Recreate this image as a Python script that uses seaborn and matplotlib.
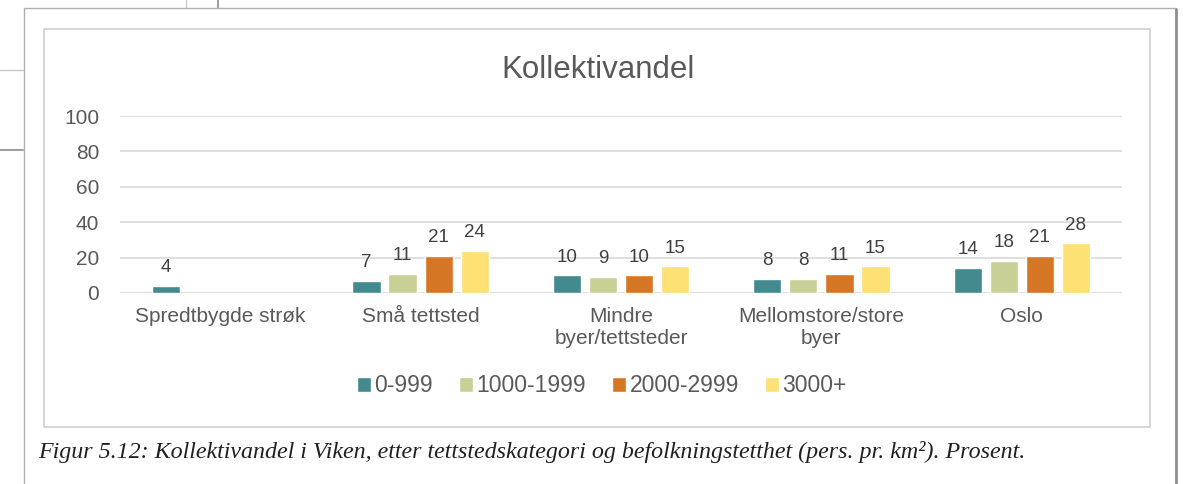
import pandas as pd
import numpy as np
import matplotlib.pyplot as plt
import seaborn as sns
from matplotlib.patches import Rectangle
from matplotlib.lines import Line2D

categories = ['Spredtbygde strøk', 'Små tettsted', 'Mindre\nbyer/tettsteder',
              'Mellomstore/store\nbyer', 'Oslo']
density_groups = ['0-999', '1000-1999', '2000-2999', '3000+']
vals_0_999 = [4, 7, 10, 8, 14]
vals_1000_1999 = [np.nan, 11, 9, 8, 18]
vals_2000_2999 = [np.nan, 21, 10, 11, 21]
vals_3000 = [np.nan, 24, 15, 15, 28]
colors = ['#438A8F', '#C9D096', '#D57625', '#FEE175']

W, H = 1183, 484

def fx(px):
    return px / W

def fy(py):
    return 1 - py / H

rows = []
for grp, series in zip(density_groups, [vals_0_999, vals_1000_1999, vals_2000_2999, vals_3000]):
    for cat, v in zip(categories, series):
        rows.append({'kategori': cat, 'tetthet': grp, 'andel': v})
df = pd.DataFrame(rows)

sns.set_style('white')
plt.rcParams['font.family'] = ['Liberation Sans', 'DejaVu Sans']

fig = plt.figure(figsize=(W / 100, H / 100), dpi=100)

# page frame / screenshot background
bg = dict(transform=fig.transFigure, zorder=-5)
fig.add_artist(Line2D([0, fx(23)], [fy(70), fy(70)], color='#C8C8C8', lw=1, **bg))
fig.add_artist(Line2D([0, fx(23)], [fy(150), fy(150)], color='#A0A0A0', lw=1.5, **bg))
fig.add_artist(Line2D([fx(186), fx(186)], [1, fy(8)], color='#C8C8C8', lw=1, **bg))
fig.add_artist(Line2D([fx(218), fx(218)], [1, fy(8)], color='#A0A0A0', lw=1.5, **bg))
fig.add_artist(Rectangle((fx(24), -0.05), fx(1176) - fx(24), fy(8) + 0.05,
                         facecolor='white', edgecolor='#B0B0B0', lw=1, **bg))
fig.add_artist(Line2D([fx(1176), fx(1176)], [0, fy(9)], color='#909090', lw=2, **bg))
fig.add_artist(Rectangle((fx(44), fy(427)), fx(1150) - fx(44), fy(29) - fy(427),
                         facecolor='white', edgecolor='#D0D0D0', lw=1.2, **bg))

ax = fig.add_axes([fx(120), fy(293), fx(1122) - fx(120), fy(116) - fy(293)])
ax.set_facecolor('none')
sns.barplot(data=df, x='kategori', y='andel', hue='tetthet', order=categories,
            hue_order=density_groups, palette=colors, width=0.72, gap=0.22,
            ax=ax, legend=False, saturation=1)

for cont in ax.containers:
    ax.bar_label(cont, fmt='%.0f', padding=7, fontsize=13.5, color='#404040')

ax.set_ylim(0, 100)
ax.set_yticks([0, 20, 40, 60, 80, 100])
ax.yaxis.grid(True, color='#D9D9D9', lw=1.2)
ax.set_axisbelow(True)
for s in ax.spines.values():
    s.set_visible(False)
ax.tick_params(axis='both', length=0, labelsize=15, colors='#595959')
ax.tick_params(axis='y', pad=15)
ax.tick_params(axis='x', pad=10)
ax.set_xlabel('')
ax.set_ylabel('')

fig.text(fx(598), fy(70), 'Kollektivandel', ha='center', va='center',
         fontsize=22.5, color='#595959')

handles = [Rectangle((0, 0), 1, 1, facecolor=c) for c in colors]
fig.legend(handles, density_groups, loc='center', bbox_to_anchor=(fx(602), fy(386)),
           ncol=4, frameon=False, fontsize=16.5, handlelength=0.6, handleheight=0.6,
           handletextpad=0.15, columnspacing=1.15, labelcolor='#595959')

fig.text(fx(38), fy(452), 'Figur 5.12: Kollektivandel i Viken, etter tettstedskategori og '
         'befolkningstetthet (pers. pr. km²). Prosent.', ha='left', va='center',
         fontsize=17.3, style='italic', family=['Liberation Serif', 'DejaVu Serif'],
         color='#202020')

fig.savefig('out.png', dpi=100)
